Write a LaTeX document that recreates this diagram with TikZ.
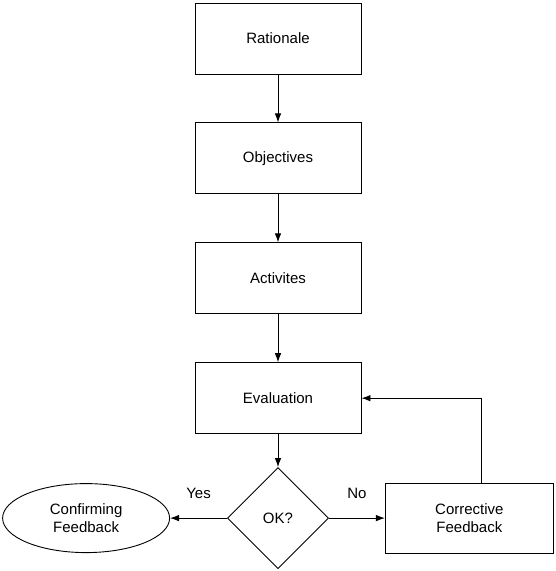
\documentclass[tikz,border=0pt]{standalone}
\usepackage{fontspec}
\setmainfont{Liberation Sans}
\usetikzlibrary{positioning,shapes.geometric,arrows.meta}
\tikzset{>={Latex[length=9pt,width=6.5pt]}}
\tikzset{
  stage/.style = {draw, line width=0.9pt, minimum width=166pt, minimum height=71pt,
    inner sep=0pt, align=center, font=\fontsize{15}{18}\selectfont},
  check/.style = {draw, diamond, aspect=1, line width=0.9pt, minimum size=101pt,
    inner sep=0pt, font=\fontsize{15}{18}\selectfont},
  result/.style = {draw, ellipse, line width=0.9pt, minimum width=167pt, minimum height=69pt,
    inner sep=0pt, align=center, font=\fontsize{15}{18}\selectfont},
  flow/.style = {->, line width=0.9pt}
}

\begin{document}
\begin{tikzpicture}[x=1pt,y=1pt,node distance=48pt]
  \useasboundingbox (0,0) rectangle (556,571);
  \node[stage] (rationale) at (278,532.5) {Rationale};
  \node[stage,below=of rationale] (objectives) {Objectives};
  \node[stage,below=of objectives] (activites) {Activites};
  \node[stage,below=of activites] (evaluation) {Evaluation};
  \node[check,below=33pt of evaluation] (ok) {OK?};
  \node[result,left=57pt of ok] (confirming) {Confirming\\Feedback};
  \node[stage,minimum width=168pt,minimum height=70pt,right=56pt of ok] (corrective) {Corrective\\Feedback};

  \draw[flow] (rationale) -- (objectives);
  \draw[flow] (objectives) -- (activites);
  \draw[flow] (activites) -- (evaluation);
  \draw[flow] (evaluation) -- (ok);
  \draw[flow] (ok) -- node[midway,yshift=25pt,font=\fontsize{15}{18}\selectfont] {Yes} (confirming);
  \draw[flow] (ok) -- node[midway,yshift=25pt,font=\fontsize{15}{18}\selectfont] {No} (corrective);
  \draw[flow] ([xshift=12pt]corrective.north) |- (evaluation);
\end{tikzpicture}
\end{document}
